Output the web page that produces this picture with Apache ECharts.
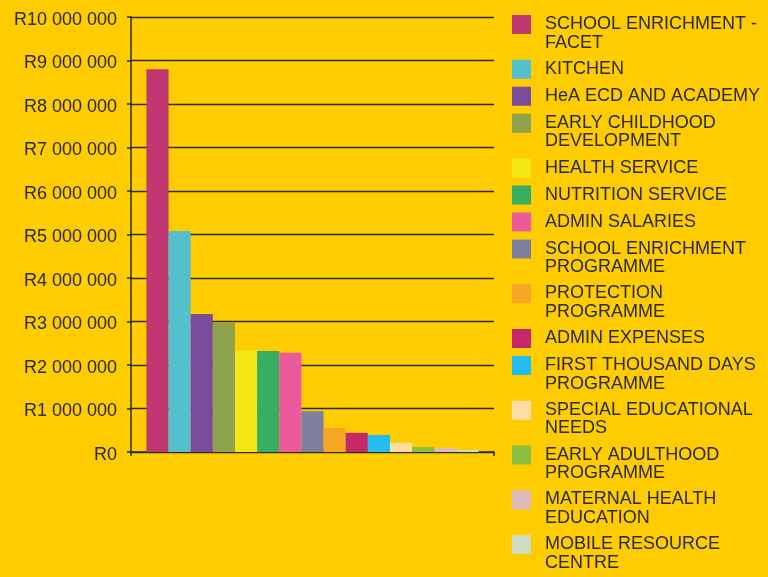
<!DOCTYPE html>
<html>
<head>
<meta charset="utf-8">
<script src="https://cdn.jsdelivr.net/npm/echarts@6/dist/echarts.min.js"></script>
<style>
  html, body { margin: 0; padding: 0; background: #FFCC00; }
  #chart { width: 768px; height: 577px; }
</style>
</head>
<body>
<div id="chart"></div>
<script>
// Programme names (legend order = bar order)
const programmes = [
  'SCHOOL ENRICHMENT -\nFACET',
  'KITCHEN',
  'HeA ECD AND ACADEMY',
  'EARLY CHILDHOOD\nDEVELOPMENT',
  'HEALTH SERVICE',
  'NUTRITION SERVICE',
  'ADMIN SALARIES',
  'SCHOOL ENRICHMENT\nPROGRAMME',
  'PROTECTION\nPROGRAMME',
  'ADMIN EXPENSES',
  'FIRST THOUSAND DAYS\nPROGRAMME',
  'SPECIAL EDUCATIONAL\nNEEDS',
  'EARLY ADULTHOOD\nPROGRAMME',
  'MATERNAL HEALTH\nEDUCATION',
  'MOBILE RESOURCE\nCENTRE'
];

// Spend per programme, in Rand
const spend = [
  8800000, 5080000, 3170000, 2970000, 2340000,
  2320000, 2280000, 940000, 550000, 440000,
  390000, 210000, 115000, 90000, 50000
];

const colours = [
  '#BF3872', '#55BFCB', '#7A4C9B', '#8FA34C', '#F4E613',
  '#38AE63', '#EB5B9B', '#7F809F', '#F6A623', '#C4276A',
  '#23BEEF', '#FDDDA4', '#8BBD40', '#DDB9B8', '#CCDDC0'
];

// Y axis range and step
const yMin = 0;
const yMax = 10000000;
const yStep = 1000000;

const ink = '#2b2b2b';
const font = 'Liberation Sans, Arial, sans-serif';

function rand(v) {
  return 'R' + String(Math.round(v)).replace(/\B(?=(\d{3})+(?!\d))/g, ' ');
}

// Each line becomes a rich-text token so the first line sits level with the swatch
function legendLines(name) {
  return name.split('\n').map(l => '{n|' + l + '}').join('\n');
}

const series = programmes.map((name, i) => ({
  name: name,
  type: 'bar',
  data: [spend[i]],
  barGap: '0%',
  barCategoryGap: '8.5%',
  itemStyle: { color: colours[i] },
  emphasis: { disabled: true }
}));

const chart = echarts.init(document.getElementById('chart'), null, { renderer: 'canvas' });
chart.setOption({
  backgroundColor: '#FFCC00',
  animation: false,
  textStyle: { fontFamily: font },
  grid: { left: 131, right: 274, top: 17, bottom: 125, containLabel: false },
  legend: {
    orient: 'vertical',
    left: 512,
    top: 15,
    height: 620,
    padding: 0,
    itemGap: 8,
    itemWidth: 19,
    itemHeight: 19,
    icon: 'rect',
    selectedMode: false,
    data: programmes,
    formatter: legendLines,
    textStyle: {
      color: ink,
      fontFamily: font,
      fontSize: 18,
      lineHeight: 18.5,
      height: 19,
      padding: [0, 0, 0, 9],
      rich: {
        n: { color: ink, fontFamily: font, fontSize: 18, lineHeight: 18.5 }
      }
    }
  },
  xAxis: {
    type: 'category',
    data: ['Spend'],
    axisLine: { show: true, lineStyle: { color: ink, width: 1.5 } },
    axisTick: { show: true, length: 4, lineStyle: { color: ink, width: 1.5 } },
    axisLabel: { show: false },
    splitLine: { show: false }
  },
  yAxis: {
    type: 'value',
    min: yMin,
    max: yMax,
    interval: yStep,
    axisLine: { show: true, lineStyle: { color: ink, width: 1.5 } },
    axisTick: { show: true, length: 4, lineStyle: { color: ink, width: 1.5 } },
    axisLabel: {
      margin: 14,
      color: ink,
      fontFamily: font,
      fontSize: 18,
      padding: [6, 0, 0, 0],
      formatter: v => '{v|' + rand(v) + '}',
      rich: {
        v: { color: ink, fontFamily: font, fontSize: 18 }
      }
    },
    splitLine: { show: true, lineStyle: { color: ink, width: 1.3 } }
  },
  series: series
});
</script>
</body>
</html>
